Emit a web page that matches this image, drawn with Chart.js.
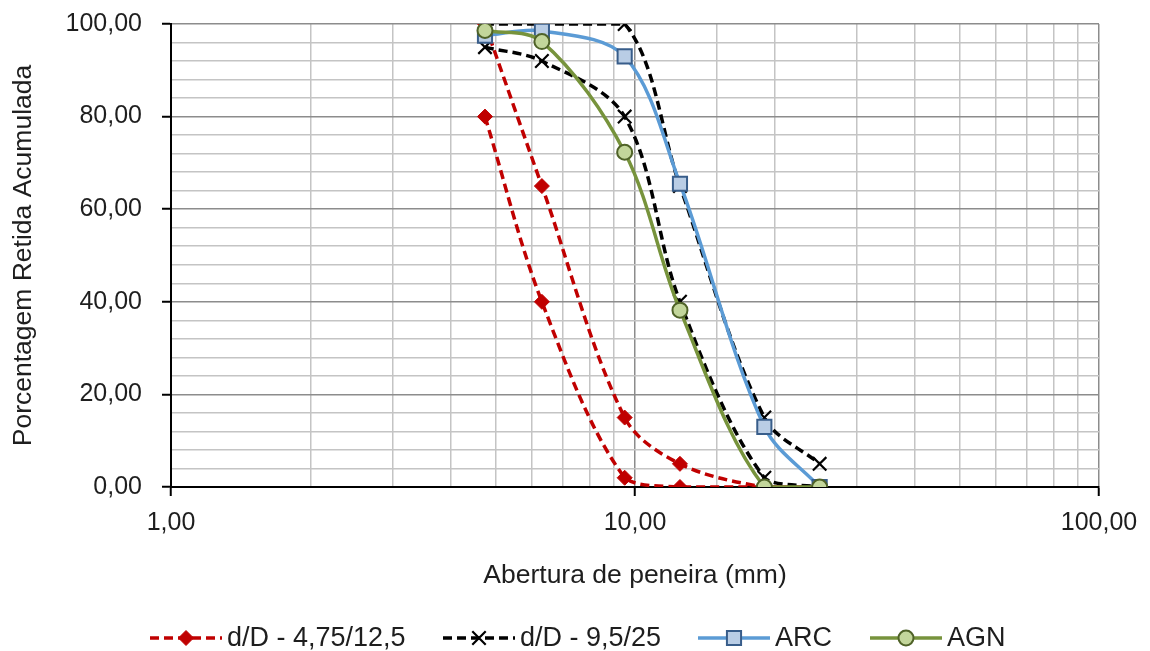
<!DOCTYPE html>
<html>
<head>
<meta charset="utf-8">
<script src="https://cdn.jsdelivr.net/npm/chart.js@4/dist/chart.umd.min.js"></script>
<style>
  body { margin: 0; background: #fff; }
  canvas { display: block; }
</style>
</head>
<body>
<canvas id="grading" width="1150" height="651"></canvas>
<script>
// Sieve openings (mm) and cumulative retained percentages
const sieves = [4.75, 6.3, 9.5, 12.5, 19, 25];
const limit475Upper = [100, 65, 15, 5, 0, 0];
const limit475Lower = [80, 40, 2, 0, 0, 0];
const limit95Upper = [100, 100, 100, 65, 15, 5];
const limit95Lower = [95, 92, 80, 40, 2, 0];
const arc = [97.5, 98.5, 93, 65.5, 13, 0];
const agn = [98.6, 96.2, 72.3, 38.2, 0, 0];
const xMajorTicks = [1, 10, 100];

const FONT = '"Liberation Sans", Arial, sans-serif';
const TEXT = '#1e1e1e';
const RED = '#C00000';
const BLUE = '#5B9BD5';
const GREEN = '#77933C';
const TENSION = 0.33;

function points(ys) {
    return sieves.map((x, i) => ({ x: x, y: ys[i] }));
}

function fmt(v) {
    return v.toFixed(2).replace('.', ',');
}

const redStyle = {
    borderColor: RED, backgroundColor: RED, borderWidth: 3.5, borderDash: [9, 5],
    pointStyle: 'rectRot', pointRadius: 7.5, pointBorderWidth: 1, pointBorderColor: RED,
    tension: TENSION, order: 3
};
const blackStyle = {
    borderColor: '#000', backgroundColor: '#000', borderWidth: 3.5, borderDash: [9, 5],
    pointStyle: 'crossRot', pointRadius: 9.5, pointBorderWidth: 2.2, pointBorderColor: '#000',
    tension: TENSION, order: 2
};

const datasets = [
    Object.assign({ label: 'd/D - 4,75/12,5', data: points(limit475Upper) }, redStyle),
    Object.assign({ label: 'd/D - 4,75/12,5 inf', data: points(limit475Lower) }, redStyle),
    Object.assign({ label: 'd/D - 9,5/25', data: points(limit95Upper) }, blackStyle),
    Object.assign({ label: 'd/D - 9,5/25 inf', data: points(limit95Lower) }, blackStyle),
    {
        label: 'ARC', data: points(arc), borderColor: BLUE, borderWidth: 3.5,
        pointStyle: 'rect', pointRadius: 10, pointBackgroundColor: '#B9CDE5',
        pointBorderColor: '#385D8A', pointBorderWidth: 2, tension: TENSION, order: 1
    },
    {
        label: 'AGN', data: points(agn), borderColor: GREEN, borderWidth: 3.5,
        pointStyle: 'circle', pointRadius: 7.5, pointBackgroundColor: '#C3D69B',
        pointBorderColor: '#4F6228', pointBorderWidth: 2, tension: TENSION, order: 0
    }
];

// legend entries: dataset index + start x of the sample line
const legendItems = [
    { ds: 0, x: 150 },
    { ds: 2, x: 443 },
    { ds: 4, x: 698 },
    { ds: 5, x: 870 }
];

function drawMarker(ctx, ds, x, y) {
    const r = ds.pointRadius;
    ctx.save();
    ctx.setLineDash([]);
    ctx.lineWidth = ds.pointBorderWidth;
    ctx.strokeStyle = ds.pointBorderColor;
    ctx.fillStyle = ds.pointBackgroundColor || ds.backgroundColor;
    ctx.beginPath();
    if (ds.pointStyle === 'rectRot') {
        ctx.moveTo(x, y - r); ctx.lineTo(x + r, y); ctx.lineTo(x, y + r); ctx.lineTo(x - r, y);
        ctx.closePath(); ctx.fill(); ctx.stroke();
    } else if (ds.pointStyle === 'crossRot') {
        const o = r * Math.SQRT1_2;
        ctx.moveTo(x - o, y - o); ctx.lineTo(x + o, y + o);
        ctx.moveTo(x + o, y - o); ctx.lineTo(x - o, y + o);
        ctx.stroke();
    } else if (ds.pointStyle === 'rect') {
        const s = r * Math.SQRT1_2;
        ctx.rect(x - s, y - s, 2 * s, 2 * s); ctx.fill(); ctx.stroke();
    } else {
        ctx.arc(x, y, r, 0, Math.PI * 2); ctx.fill(); ctx.stroke();
    }
    ctx.restore();
}

const bottomLegend = {
    id: 'bottomLegend',
    afterDraw(chart) {
        const ctx = chart.ctx;
        const y = 638;
        ctx.save();
        ctx.font = '27px ' + FONT;
        ctx.textBaseline = 'middle';
        ctx.fillStyle = TEXT;
        legendItems.forEach(item => {
            const ds = chart.data.datasets[item.ds];
            ctx.save();
            ctx.strokeStyle = ds.borderColor;
            ctx.lineWidth = ds.borderWidth;
            ctx.setLineDash(ds.borderDash || []);
            ctx.beginPath();
            ctx.moveTo(item.x, y);
            ctx.lineTo(item.x + 72, y);
            ctx.stroke();
            ctx.restore();
            drawMarker(ctx, ds, item.x + 36, y);
            ctx.fillText(ds.label, item.x + 77, y + 1);
        });
        ctx.restore();
    }
};

new Chart(document.getElementById('grading'), {
    type: 'line',
    data: { datasets: datasets },
    plugins: [bottomLegend],
    options: {
        responsive: false,
        animation: false,
        devicePixelRatio: 1,
        layout: { padding: { left: 0, right: 51, top: 24, bottom: 59 } },
        plugins: { legend: { display: false }, tooltip: { enabled: false } },
        scales: {
            x: {
                type: 'logarithmic',
                min: 1,
                max: 100,
                afterFit(scale) { scale.height = 105; },
                border: { color: '#000', width: 2 },
                grid: {
                    color: c => xMajorTicks.includes(c.tick.value) ? '#8c8c8c' : '#c4c4c4',
                    lineWidth: 1.5,
                    tickLength: 9,
                    tickColor: c => xMajorTicks.includes(c.tick.value) ? '#000' : 'rgba(0,0,0,0)',
                    tickWidth: 2
                },
                ticks: {
                    autoSkip: false,
                    maxRotation: 0,
                    padding: 12,
                    color: TEXT,
                    font: { family: FONT, size: 25 },
                    callback: v => xMajorTicks.includes(v) ? fmt(v) : ''
                },
                title: {
                    display: true,
                    text: 'Abertura de peneira (mm)',
                    color: TEXT,
                    font: { family: FONT, size: 26.5 },
                    padding: { top: 0, bottom: 0 }
                }
            },
            y: {
                min: 0,
                max: 100,
                afterFit(scale) {
                    scale.width = 171;
                    scale.paddingTop = 10;
                    scale.paddingBottom = 10;
                },
                border: { color: '#000', width: 2 },
                grid: {
                    color: c => c.tick.value % 20 === 0 ? '#8c8c8c' : '#c4c4c4',
                    lineWidth: 1.5,
                    tickLength: 9,
                    tickColor: c => c.tick.value % 20 === 0 ? '#000' : 'rgba(0,0,0,0)',
                    tickWidth: 2
                },
                ticks: {
                    stepSize: 4,
                    autoSkip: false,
                    padding: 20,
                    color: TEXT,
                    font: { family: FONT, size: 25 },
                    callback: v => v % 20 === 0 ? fmt(v) : ''
                },
                title: {
                    display: true,
                    text: 'Porcentagem Retida Acumulada',
                    color: TEXT,
                    font: { family: FONT, size: 26.5 },
                    padding: { top: 8, bottom: 0 }
                }
            }
        }
    }
});
</script>
</body>
</html>
